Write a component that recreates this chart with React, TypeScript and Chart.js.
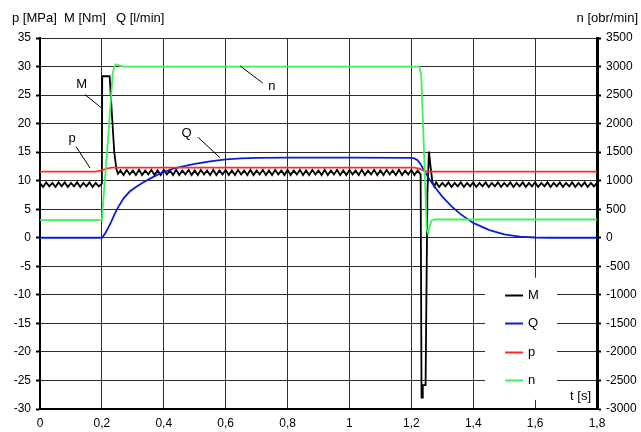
import React, { useEffect, useRef } from 'react';
import { Chart, registerables } from 'chart.js';

Chart.register(...registerables);

// ---- titles / labels ----
const leftTitles = ['p [MPa]', 'M [Nm]', 'Q [l/min]'];
const rightTitle = 'n [obr/min]';
const xTitle = 't [s]';
const seriesNames = ['M', 'Q', 'p', 'n'];
const seriesColors = ['#000000', '#0a1ed2', '#ff2b2b', '#3ff05c'];

// ---- data: [t (s), value] ----
const torqueM: [number, number][] = [
  [0, 9.6], [0.01, 8.9], [0.02, 9.7], [0.03, 9.0], [0.04, 9.6], [0.05, 8.9], [0.06, 9.7], [0.07, 9.0], [0.08, 9.7], [0.09, 8.9],
  [0.1, 9.6], [0.11, 9.0], [0.12, 9.7], [0.13, 8.9], [0.14, 9.6], [0.15, 9.0], [0.16, 9.7], [0.17, 8.9], [0.18, 9.6], [0.19, 9.0],
  [0.2, 9.5], [0.201, 28.3], [0.225, 28.3], [0.232, 22.0], [0.24, 15.0], [0.247, 12.0], [0.252, 11.2],
  [0.26, 11.8], [0.27, 11.0], [0.28, 11.9], [0.29, 11.1], [0.3, 11.8], [0.31, 11.0], [0.32, 11.9], [0.33, 11.0], [0.34, 11.8], [0.35, 11.1],
  [0.36, 11.9], [0.37, 11.0], [0.38, 11.8], [0.39, 11.0], [0.4, 11.9], [0.41, 11.1], [0.42, 11.8], [0.43, 11.0], [0.44, 11.9], [0.45, 11.0],
  [0.46, 11.8], [0.47, 11.1], [0.48, 11.9], [0.49, 11.0], [0.5, 11.8], [0.51, 11.0], [0.52, 11.9], [0.53, 11.1], [0.54, 11.8], [0.55, 11.0],
  [0.56, 11.9], [0.57, 11.0], [0.58, 11.8], [0.59, 11.1], [0.6, 11.9], [0.61, 11.0], [0.62, 11.8], [0.63, 11.0], [0.64, 11.9], [0.65, 11.1],
  [0.66, 11.8], [0.67, 11.0], [0.68, 11.9], [0.69, 11.0], [0.7, 11.8], [0.71, 11.1], [0.72, 11.9], [0.73, 11.0], [0.74, 11.8], [0.75, 11.0],
  [0.76, 11.9], [0.77, 11.1], [0.78, 11.8], [0.79, 11.0], [0.8, 11.9], [0.81, 11.0], [0.82, 11.8], [0.83, 11.1], [0.84, 11.9], [0.85, 11.0],
  [0.86, 11.8], [0.87, 11.0], [0.88, 11.9], [0.89, 11.1], [0.9, 11.8], [0.91, 11.0], [0.92, 11.9], [0.93, 11.0], [0.94, 11.8], [0.95, 11.1],
  [0.96, 11.9], [0.97, 11.0], [0.98, 11.8], [0.99, 11.0], [1, 11.9], [1.01, 11.1], [1.02, 11.8], [1.03, 11.0], [1.04, 11.9], [1.05, 11.0],
  [1.06, 11.8], [1.07, 11.1], [1.08, 11.9], [1.09, 11.0], [1.1, 11.8], [1.11, 11.0], [1.12, 11.9], [1.13, 11.1], [1.14, 11.8], [1.15, 11.0],
  [1.16, 11.9], [1.17, 11.0], [1.18, 11.8], [1.19, 11.1], [1.2, 11.9], [1.21, 11.0], [1.22, 11.8], [1.23, 11.1],
  [1.233, -28], [1.235, -28], [1.237, -25.8], [1.246, -25.8], [1.252, 8], [1.257, 15.1], [1.262, 12.5], [1.268, 9.8], [1.274, 9.0],
  [1.28, 9.7], [1.29, 8.9], [1.3, 9.6], [1.31, 9.0], [1.32, 9.7], [1.33, 8.9], [1.34, 9.6], [1.35, 9.0], [1.36, 9.7], [1.37, 8.9],
  [1.38, 9.6], [1.39, 9.0], [1.4, 9.7], [1.41, 8.9], [1.42, 9.6], [1.43, 9.0], [1.44, 9.7], [1.45, 8.9], [1.46, 9.6], [1.47, 9.0],
  [1.48, 9.7], [1.49, 8.9], [1.5, 9.6], [1.51, 9.0], [1.52, 9.7], [1.53, 8.9], [1.54, 9.6], [1.55, 9.0], [1.56, 9.7], [1.57, 8.9],
  [1.58, 9.6], [1.59, 9.0], [1.6, 9.7], [1.61, 8.9], [1.62, 9.6], [1.63, 9.0], [1.64, 9.7], [1.65, 8.9], [1.66, 9.6], [1.67, 9.0],
  [1.68, 9.7], [1.69, 8.9], [1.7, 9.6], [1.71, 9.0], [1.72, 9.7], [1.73, 8.9], [1.74, 9.6], [1.75, 9.0], [1.76, 9.7], [1.77, 8.9],
  [1.78, 9.6], [1.79, 9.0], [1.8, 9.6],
];

const flowQ: [number, number][] = [
  [0, 0], [0.2, 0], [0.21, 0.7], [0.22, 1.7], [0.23, 2.8], [0.24, 4.0], [0.25, 5.1], [0.27, 6.9], [0.29, 8.1], [0.31, 8.9],
  [0.333, 9.7], [0.36, 10.5], [0.39, 11.3], [0.43, 12.1], [0.47, 12.6], [0.5, 12.95], [0.55, 13.4], [0.6, 13.75], [0.65, 13.9],
  [0.7, 14.0], [0.8, 14.05], [1.0, 14.05], [1.2, 14.0], [1.21, 13.9], [1.22, 13.6], [1.23, 12.9], [1.24, 11.9], [1.26, 10.1],
  [1.28, 8.6], [1.3, 7.2], [1.33, 5.5], [1.36, 4.1], [1.4, 2.6], [1.45, 1.4], [1.5, 0.6], [1.55, 0.2], [1.6, 0.05], [1.65, 0], [1.8, 0],
];

const pressureP: [number, number][] = [
  [0, 11.6], [0.18, 11.6], [0.2, 11.8], [0.215, 12.1], [0.23, 12.3], [1.21, 12.3], [1.225, 12.1], [1.24, 11.8], [1.25, 11.6], [1.8, 11.6],
];

const speedN: [number, number][] = [
  [0, 310], [0.2, 310], [0.205, 700], [0.219, 1660], [0.235, 2880], [0.24, 3000], [0.245, 3040], [0.255, 3020], [0.27, 3000],
  [1.226, 3000], [1.232, 2850], [1.25, 150], [1.254, 80], [1.258, 180], [1.265, 300], [1.275, 320], [1.8, 320],
];

// ---- callouts (text, label position, leader line) in data units ----
const callouts = [
  { text: 'M', tx: 0.135, ty: 26.8, x1: 0.145, y1: 25.1, x2: 0.202, y2: 22.6 },
  { text: 'p', tx: 0.104, ty: 17.4, x1: 0.116, y1: 16.0, x2: 0.162, y2: 12.2 },
  { text: 'Q', tx: 0.474, ty: 18.3, x1: 0.511, y1: 17.6, x2: 0.582, y2: 14.0 },
  { text: 'n', tx: 0.749, ty: 26.6, x1: 0.647, y1: 30.1, x2: 0.72, y2: 27.1 },
];
const legendRows = [-10, -15, -20, -25];

const FONT = "'Liberation Sans', Arial, sans-serif";
const GRID = '#2e2e2e';

const fmtX = (v: number) => {
  const s = Number(v).toFixed(1);
  return s.endsWith('.0') ? s.slice(0, -2) : s.replace('.', ',');
};

const overlayPlugin = {
  id: 'overlay',
  beforeDatasetsDraw(chart: any) {
    const { ctx, scales } = chart;
    const x = scales.x, y = scales.y;
    const l = x.getPixelForValue(1.438), r = x.getPixelForValue(1.671);
    const t = y.getPixelForValue(-7.0), b = y.getPixelForValue(-28.4);
    ctx.save();
    ctx.fillStyle = '#ffffff';
    ctx.fillRect(l, t, r - l, b - t);
    ctx.restore();
  },
  afterDraw(chart: any) {
    const { ctx, scales, chartArea } = chart;
    const x = scales.x, y = scales.y;
    ctx.save();
    ctx.fillStyle = '#000';
    ctx.font = `13px ${FONT}`;
    ctx.textBaseline = 'alphabetic';
    ctx.textAlign = 'left';
    ctx.fillText(leftTitles[0], 12, 22);
    ctx.fillText(leftTitles[1], 64, 22);
    ctx.fillText(leftTitles[2], 116, 22);
    ctx.textAlign = 'right';
    ctx.fillText(rightTitle, 638, 22);
    ctx.fillText(xTitle, chartArea.right - 6, y.getPixelForValue(-28.5));

    // callouts
    ctx.textAlign = 'center';
    ctx.textBaseline = 'middle';
    ctx.lineWidth = 1;
    ctx.strokeStyle = '#000';
    for (const c of callouts) {
      ctx.fillText(c.text, x.getPixelForValue(c.tx), y.getPixelForValue(c.ty));
      ctx.beginPath();
      ctx.moveTo(x.getPixelForValue(c.x1), y.getPixelForValue(c.y1));
      ctx.lineTo(x.getPixelForValue(c.x2), y.getPixelForValue(c.y2));
      ctx.stroke();
    }

    // legend
    ctx.textAlign = 'left';
    const lx1 = x.getPixelForValue(1.503), lx2 = x.getPixelForValue(1.561), tx = x.getPixelForValue(1.577);
    chart.data.datasets.forEach((ds: any, i: number) => {
      const py = Math.round(y.getPixelForValue(legendRows[i])) + 0.5;
      ctx.strokeStyle = ds.borderColor;
      ctx.lineWidth = 2;
      ctx.beginPath();
      ctx.moveTo(lx1, py);
      ctx.lineTo(lx2, py);
      ctx.stroke();
      ctx.fillStyle = '#000';
      ctx.fillText(ds.label, tx, py);
    });
    ctx.restore();
  },
};

export default function App() {
  const ref = useRef<HTMLCanvasElement | null>(null);
  useEffect(() => {
    if (!ref.current) return;
    const toXY = (a: [number, number][]) => a.map(([t, v]) => ({ x: t, y: v }));
    const sets = [torqueM, flowQ, pressureP, speedN];
    const chart = new Chart(ref.current, {
      type: 'line',
      data: {
        datasets: sets.map((s, i) => ({
          label: seriesNames[i],
          data: toXY(s),
          borderColor: seriesColors[i],
          backgroundColor: seriesColors[i],
          borderWidth: 1.8,
          pointRadius: 0,
          tension: 0,
          yAxisID: i === 3 ? 'y2' : 'y',
          order: 4 - i,
        })),
      },
      options: {
        animation: false,
        responsive: false,
        devicePixelRatio: 1,
        layout: { padding: { top: 38, left: 0, right: 0, bottom: 0 } },
        plugins: { legend: { display: false }, tooltip: { enabled: false } },
        scales: {
          x: {
            type: 'linear',
            min: 0,
            max: 1.8,
            afterFit: (s: any) => { s.height = 23; },
            ticks: { stepSize: 0.2, color: '#000', font: { family: FONT, size: 12 }, padding: 7, maxRotation: 0, callback: (v: any) => fmtX(v) },
            grid: { color: GRID, lineWidth: 1, drawTicks: false },
            border: { color: '#000', width: 2 },
          },
          y: {
            position: 'left',
            min: -30,
            max: 35,
            afterFit: (s: any) => { s.width = 40; },
            ticks: { stepSize: 5, color: '#000', font: { family: FONT, size: 12 }, padding: 5 },
            grid: { color: GRID, lineWidth: 1, tickLength: 4, tickColor: '#000', tickWidth: 2 },
            border: { color: '#000', width: 2 },
          },
          y2: {
            position: 'right',
            min: -3000,
            max: 3500,
            afterFit: (s: any) => { s.width = 44; },
            ticks: { stepSize: 500, color: '#000', font: { family: FONT, size: 12 }, padding: 5, callback: (v: any) => String(v) },
            grid: { drawOnChartArea: false, tickLength: 4, tickColor: '#000', tickWidth: 2 },
            border: { color: '#000', width: 3 },
          },
        },
      },
      plugins: [overlayPlugin],
    });
    return () => chart.destroy();
  }, []);
  return (
    <div style={{ position: 'absolute', left: 0, top: 0, width: 641, height: 432, background: '#fff' }}>
      <canvas ref={ref} width={641} height={432} style={{ display: 'block' }} />
    </div>
  );
}
